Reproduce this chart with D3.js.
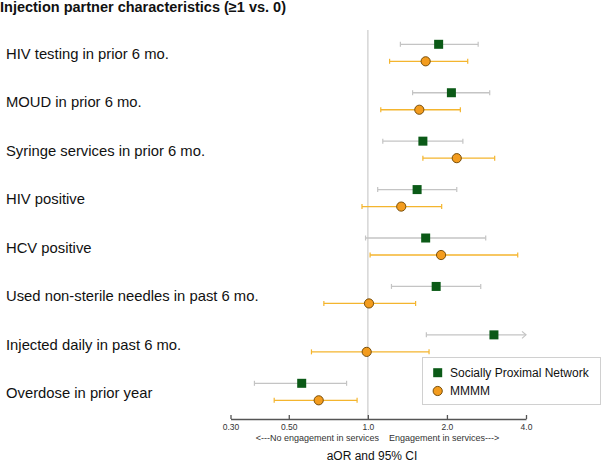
<!DOCTYPE html>
<html><head><meta charset="utf-8">
<script src="https://cdn.jsdelivr.net/npm/d3@7"></script>
<style>body{margin:0;background:#fff}svg{display:block;font-family:Arial,"Liberation Sans",sans-serif}</style>
</head><body><svg id="c" width="602" height="462"></svg>
<script>
const categories = ["HIV testing in prior 6 mo.","MOUD in prior 6 mo.","Syringe services in prior 6 mo.","HIV positive","HCV positive","Used non-sterile needles in past 6 mo.","Injected daily in past 6 mo.","Overdose in prior year"];
const spnEst = [1.86,2.08,1.62,1.54,1.66,1.82,3.02,0.56];
const spnLo  = [1.33,1.48,1.14,1.09,0.98,1.23,1.67,0.37];
const spnHi  = [2.63,2.91,2.30,2.18,2.81,2.69,4.5,0.83];
const mmEst  = [1.66,1.57,2.18,1.34,1.90,1.01,0.99,0.65];
const mmLo   = [1.21,1.12,1.62,0.95,1.02,0.68,0.61,0.44];
const mmHi   = [2.40,2.25,3.04,1.91,3.72,1.52,1.71,0.91];
const tickValues = [0.3,0.5,1,2,4];
const tickLabels = ["0.30","0.50","1.0","2.0","4.0"];
const seriesNames = ["Socially Proximal Network","MMMM"];

const svg = d3.select("#c");
const x = d3.scaleLog().domain([0.3,4]).range([230.5,526]);
const y = d3.scalePoint().domain(categories).range([44.3,383.3]);
const off = 17;
const green = "#0b5a17", orange = "#f39c1e", grey = "#c4c4c4", gold = "#f4b52e";

svg.append("text").attr("x",0).attr("y",12).attr("font-size","14.5px").attr("font-weight","bold").attr("fill","#111")
  .text("Injection partner characteristics (\u22651 vs. 0)");

// reference line
svg.append("line").attr("x1",x(1)).attr("x2",x(1)).attr("y1",30).attr("y2",419).attr("stroke","#d6d6d6").attr("stroke-width",1.5);

// row labels
svg.selectAll("text.lab").data(categories).join("text").attr("class","lab")
  .attr("x",6).attr("y",d=>y(d)+off/2+1).attr("dy","0.35em").attr("font-size","14.8px").attr("fill","#111").text(d=>d);

const series = [
  {name:seriesNames[0], est:spnEst, lo:spnLo, hi:spnHi, dy:0, line:grey},
  {name:seriesNames[1], est:mmEst, lo:mmLo, hi:mmHi, dy:off, line:gold}
];
const maxV = x.domain()[1];
series.forEach((s,si)=>{
  const g = svg.append("g");
  categories.forEach((c,i)=>{
    const yy = y(c)+s.dy;
    const lo = Math.max(s.lo[i], x.domain()[0]), hi = Math.min(s.hi[i], maxV);
    g.append("line").attr("x1",x(lo)).attr("x2",x(hi)).attr("y1",yy).attr("y2",yy).attr("stroke",s.line).attr("stroke-width",1.3);
    g.append("line").attr("x1",x(lo)).attr("x2",x(lo)).attr("y1",yy-2.5).attr("y2",yy+2.5).attr("stroke",s.line).attr("stroke-width",1.2);
    if (s.hi[i] > maxV) {
      g.append("path").attr("d",`M${x(hi)-4},${yy-3.5}L${x(hi)},${yy}L${x(hi)-4},${yy+3.5}`).attr("fill","none").attr("stroke",s.line).attr("stroke-width",1.2);
    } else {
      g.append("line").attr("x1",x(hi)).attr("x2",x(hi)).attr("y1",yy-2.5).attr("y2",yy+2.5).attr("stroke",s.line).attr("stroke-width",1.2);
    }
    if (si===0) {
      g.append("rect").attr("x",x(s.est[i])-4.5).attr("y",yy-4.5).attr("width",9).attr("height",9).attr("fill",green);
    } else {
      g.append("circle").attr("cx",x(s.est[i])).attr("cy",yy).attr("r",4.6).attr("fill",orange).attr("stroke","#6b4300").attr("stroke-width",0.9);
    }
  });
});

// axis
const ax = svg.append("g").attr("transform","translate(0,419)")
  .call(d3.axisBottom(x).tickValues(tickValues).tickFormat((d,i)=>tickLabels[i]).tickSizeInner(-4).tickSizeOuter(0));
ax.select(".domain").attr("stroke","#555").attr("stroke-width",1.5);
ax.selectAll(".tick line").attr("stroke","#555").attr("stroke-width",1.3);
ax.selectAll(".tick text").attr("y",11.3).attr("dy",0).attr("font-size","8.5px").attr("fill","#333").attr("font-family","Arial,'Liberation Sans',sans-serif");

svg.append("text").attr("x",377.5).attr("y",440.5).attr("text-anchor","middle").attr("font-size","9px").attr("fill","#333")
  .attr("xml:space","preserve").style("white-space","pre").text("<---No engagement in services    Engagement in services--->");
svg.append("text").attr("x",372).attr("y",459.5).attr("text-anchor","middle").attr("font-size","12px").attr("fill","#111").text("aOR and 95% CI");

// legend
const lg = svg.append("g");
lg.append("rect").attr("x",422.5).attr("y",357.5).attr("width",178).attr("height",47).attr("fill","#fff").attr("stroke","#d0d0d0");
lg.append("rect").attr("x",433.2).attr("y",368.2).attr("width",9).attr("height",9).attr("fill",green);
lg.append("circle").attr("cx",437.7).attr("cy",391).attr("r",4.6).attr("fill",orange).attr("stroke","#6b4300").attr("stroke-width",0.9);
lg.selectAll("text.lg").data(seriesNames).join("text").attr("class","lg").attr("x",450).attr("y",(d,i)=>i?391:372.7).attr("dy","0.35em")
  .attr("font-size","12px").attr("fill","#111").text(d=>d);
</script></body></html>
